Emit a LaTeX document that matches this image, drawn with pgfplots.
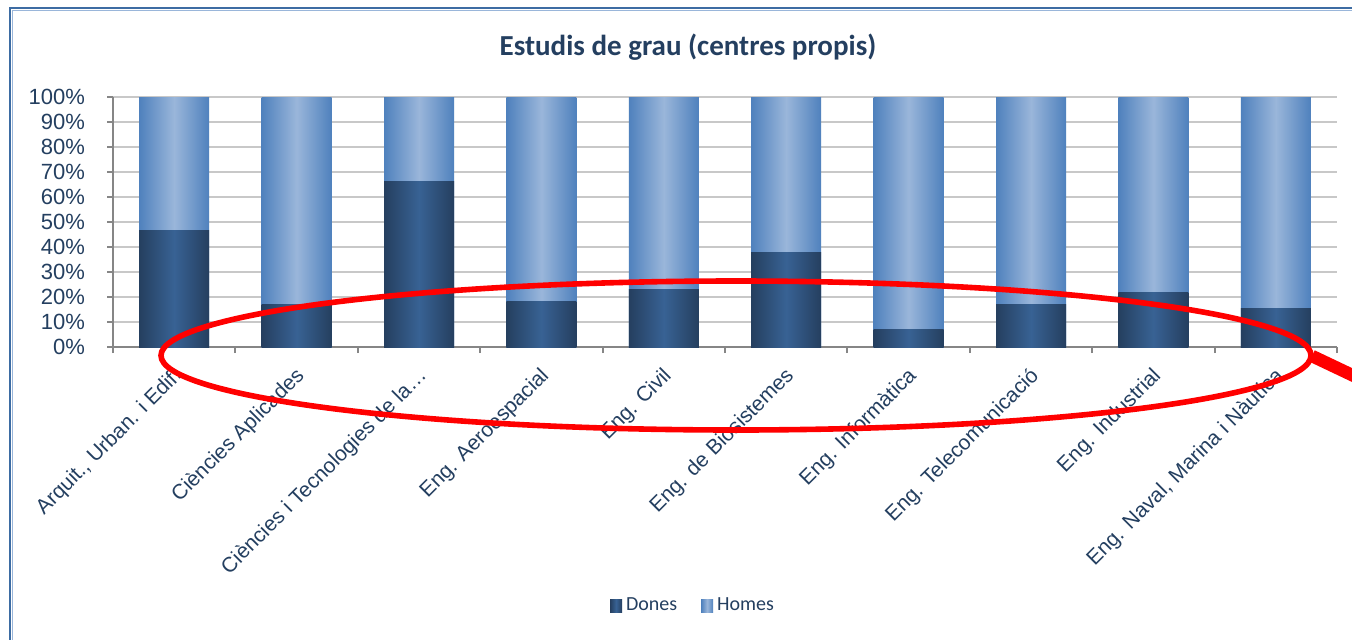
\documentclass[border=0pt]{standalone}
\usepackage{fontspec}
\setmainfont{Liberation Sans}
\newfontfamily\calibri{Carlito}
\usepackage{pgfplots}
\pgfplotsset{compat=1.18}
\definecolor{txt}{HTML}{243F60}
\definecolor{dEdge}{HTML}{253F5F}
\definecolor{dMid}{HTML}{386294}
\definecolor{hEdge}{HTML}{4F81BD}
\definecolor{hMid}{HTML}{9AB6DA}
\definecolor{axgray}{HTML}{868686}
\definecolor{gridgray}{HTML}{C8C8C8}
\definecolor{frameblue}{HTML}{3D6CA3}
\pgfplotsset{
 dones/.style={draw=none, left color=dEdge, right color=dEdge, middle color=dMid},
 homes/.style={draw=none, left color=hEdge, right color=hEdge, middle color=hMid},
}
\begin{document}
\begin{tikzpicture}[x=0.5pt,y=0.5pt]
\useasboundingbox (0,0) rectangle (1352,639);
\clip (0,0) rectangle (1352,639);
\fill[white] (0,0) rectangle (1352,639);
\draw[frameblue, line width=1.1pt] (10,-10) -- (10,631) -- (1400,631);
\draw[hMid, line width=0.5pt] (12.5,-10) -- (12.5,628.5) -- (1400,628.5);
\node[font=\calibri\bfseries\fontsize{14.5}{17}\selectfont, text=txt] at (688,592) {Estudis de grau (centres propis)};
\begin{axis}[
 at={(56.5pt,146pt)}, anchor=south west, scale only axis,
 width=612pt, height=125pt,
 ybar, bar shift=0pt, bar width=35pt,
 xmin=-0.5, xmax=9.5, ymin=0, ymax=100,
 axis lines*=left,
 axis line style={axgray, line width=1pt},
 xtick={0,...,9},
 xticklabels={{Arquit., Urban. i Edif.},{Ciències Aplicades},{Ciències i Tecnologies de la…},{Eng. Aeroespacial},{Eng. Civil},{Eng. de Biosistemes},{Eng. Informàtica},{Eng. Telecomunicació},{Eng. Industrial},{Eng. Naval, Marina i Nàutica}},
 minor xtick={-0.5,0.5,...,9.5},
 ytick={0,10,...,100},
 minor ytick={0,10,...,100},
 major tick length=0pt, minor tick length=3pt,
 tick align=outside,
 tick style={axgray, line width=1pt},
 ymajorgrids, grid style={gridgray, line width=1pt},
 yticklabel={\pgfmathprintnumber{\tick}\%},
 /pgf/number format/assume math mode=true,
 y tick label style={font=\fontsize{11}{13}\selectfont, text=txt, xshift=-10.5pt},
 x tick label style={font=\fontsize{10.5}{12}\selectfont, text=txt, inner sep=0pt, xshift=-1.2pt, yshift=-9.2pt, rotate=45, anchor=north east},
 legend style={at={(0.4747,-1.036)}, anchor=center, draw=none, fill=none, legend columns=2, font=\calibri\fontsize{10}{12}\selectfont, text=txt, /tikz/every even column/.append style={column sep=10pt}},
 legend image code/.code={\path[#1,draw=none] (0pt,-3.25pt) rectangle (6pt,3.25pt);},
 clip=false,
]
\addlegendimage{dones}\addlegendentry{Dones}
\addlegendimage{homes}\addlegendentry{Homes}
% Homes: bar top = Dones + Homes = 100 %
\addplot[homes, forget plot] coordinates {(0,100)};
\addplot[homes, forget plot] coordinates {(1,100)};
\addplot[homes, forget plot] coordinates {(2,100)};
\addplot[homes, forget plot] coordinates {(3,100)};
\addplot[homes, forget plot] coordinates {(4,100)};
\addplot[homes, forget plot] coordinates {(5,100)};
\addplot[homes, forget plot] coordinates {(6,100)};
\addplot[homes, forget plot] coordinates {(7,100)};
\addplot[homes, forget plot] coordinates {(8,100)};
\addplot[homes, forget plot] coordinates {(9,100)};
% Dones
\addplot[dones, forget plot] coordinates {(0,46.8)};
\addplot[dones, forget plot] coordinates {(1,17.2)};
\addplot[dones, forget plot] coordinates {(2,66.4)};
\addplot[dones, forget plot] coordinates {(3,18.4)};
\addplot[dones, forget plot] coordinates {(4,23.2)};
\addplot[dones, forget plot] coordinates {(5,38)};
\addplot[dones, forget plot] coordinates {(6,7.2)};
\addplot[dones, forget plot] coordinates {(7,17.2)};
\addplot[dones, forget plot] coordinates {(8,21.7)};
\addplot[dones, forget plot] coordinates {(9,15.6)};
\end{axis}
\draw[red, line width=2.8pt] (736,283.5) ellipse [x radius=287.5pt, y radius=37.25pt];
\draw[red, line width=6.3pt] (1312,283) -- (1372,254.5);
\end{tikzpicture}
\end{document}
